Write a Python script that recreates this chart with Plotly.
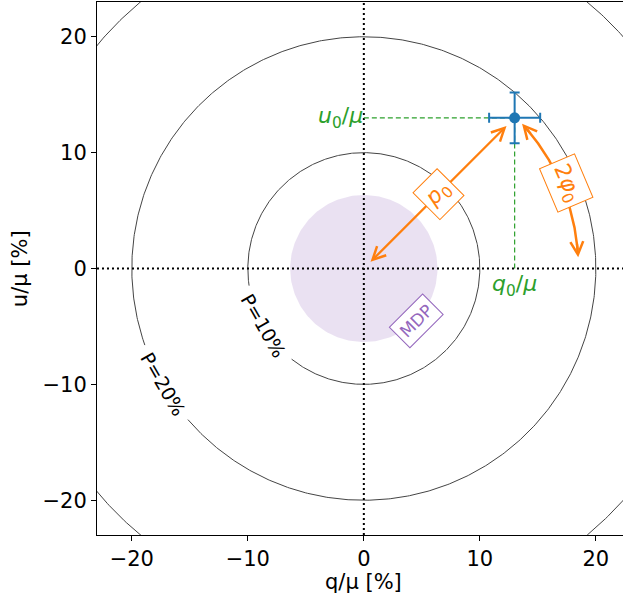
import numpy as np
import plotly.graph_objects as go

# ---------------- data ----------------
p_levels = [10, 20, 30]            # polarization-degree contours [%]
p_labels = ["P=10%", "P=20%", ""]  # contour labels (P=30% label out of view)
label_angle_deg = 210              # angular position of contour labels
gap_half_deg = [21.5, 10.7, 0.0]   # half-width of label gap on each contour
q0 = 13.0                          # q0/mu [%]
u0 = 13.0                          # u0/mu [%]
q0_err = 2.2
u0_err = 2.2
mdp = 6.35                         # MDP radius [%]
arc_radius = 18.5                  # radius of the 2phi0 arc
arc_from_deg = 42.5
arc_to_deg = 3.0
x_ticks = [-20, -10, 0, 10, 20]
y_ticks = [-20, -10, 0, 10, 20]
x_range = [-23, 22.34]
y_range = [-23, 23]
x_title = "q/μ [%]"
y_title = "u/μ [%]"

BLUE = "#1f77b4"
ORANGE = "#ff7f0e"
GREEN = "#2ca02c"
PURPLE = "#9467bd"
FONT = "DejaVu Sans"

fig = go.Figure()

# MDP disc
th = np.linspace(0, 2 * np.pi, 241)
fig.add_trace(go.Scatter(x=mdp * np.cos(th), y=mdp * np.sin(th), mode="lines",
                         fill="toself", fillcolor="rgba(148,103,189,0.2)",
                         line=dict(width=0, color="rgba(0,0,0,0)"),
                         hoverinfo="skip", showlegend=False))

# contour circles with gaps for labels
for r, g in zip(p_levels, gap_half_deg):
    a0 = np.deg2rad(label_angle_deg + g)
    a1 = np.deg2rad(label_angle_deg + 360 - g)
    t = np.linspace(a0, a1, 721)
    fig.add_trace(go.Scatter(x=r * np.cos(t), y=r * np.sin(t), mode="lines",
                             line=dict(color="#444444", width=1),
                             hoverinfo="skip", showlegend=False))

# dotted axes through origin
fig.add_trace(go.Scatter(x=[y_range[0], 23], y=[0, 0], mode="lines",
                         line=dict(color="black", width=2, dash="2px,3px"),
                         hoverinfo="skip", showlegend=False))
fig.add_trace(go.Scatter(x=[0, 0], y=y_range, mode="lines",
                         line=dict(color="black", width=2, dash="2px,3px"),
                         hoverinfo="skip", showlegend=False))

# green projection lines
fig.add_trace(go.Scatter(x=[0, q0], y=[u0, u0], mode="lines",
                         line=dict(color=GREEN, width=1.2, dash="5px,3px"),
                         hoverinfo="skip", showlegend=False))
fig.add_trace(go.Scatter(x=[q0, q0], y=[0, u0], mode="lines",
                         line=dict(color=GREEN, width=1.2, dash="5px,3px"),
                         hoverinfo="skip", showlegend=False))

# 2phi0 arc
ta = np.deg2rad(np.linspace(arc_from_deg - 2, arc_to_deg + 2, 200))
fig.add_trace(go.Scatter(x=arc_radius * np.cos(ta), y=arc_radius * np.sin(ta),
                         mode="lines", line=dict(color=ORANGE, width=2.5),
                         hoverinfo="skip", showlegend=False))

# measured point with error bars
fig.add_trace(go.Scatter(x=[q0], y=[u0], mode="markers",
                         marker=dict(color=BLUE, size=11),
                         error_x=dict(type="data", array=[q0_err], color=BLUE,
                                      thickness=2, width=5),
                         error_y=dict(type="data", array=[u0_err], color=BLUE,
                                      thickness=2, width=5),
                         hoverinfo="skip", showlegend=False))

ann = []
# contour labels
for r, lab in zip(p_levels, p_labels):
    if not lab:
        continue
    a = np.deg2rad(label_angle_deg)
    ann.append(dict(x=r * np.cos(a), y=r * np.sin(a), text=lab, showarrow=False,
                    textangle=60, font=dict(family=FONT, size=19, color="black")))

# MDP label
ann.append(dict(x=4.5, y=-4.5, text="MDP", showarrow=False, textangle=-45,
                font=dict(family=FONT, size=17, color=PURPLE),
                bgcolor="white", bordercolor=PURPLE, borderwidth=1, borderpad=4))

# green labels
ann.append(dict(x=0, y=u0, text="<i>u</i><sub>0</sub>/<i>μ</i>", showarrow=False,
                xanchor="right", yanchor="middle", xshift=1,
                font=dict(family=FONT, size=22, color=GREEN)))
ann.append(dict(x=q0, y=0, text="<i>q</i><sub>0</sub>/<i>μ</i>", showarrow=False,
                xanchor="center", yanchor="top", yshift=0,
                font=dict(family=FONT, size=22, color=GREEN)))

# p0 double arrow
s = 0.45
e = q0 - 0.7
ann.append(dict(x=e, y=e, ax=s, ay=s, axref="x", ayref="y", xref="x", yref="y",
                text="", showarrow=True, arrowhead=5, startarrowhead=5,
                arrowside="end+start", arrowwidth=2.3, arrowsize=1.1,
                startarrowsize=1.1, arrowcolor=ORANGE))
ann.append(dict(x=6.4, y=6.4, text="<i>p</i><sub>0</sub>", showarrow=False,
                textangle=-45, font=dict(family=FONT, size=22, color=ORANGE),
                bgcolor="white", bordercolor=ORANGE, borderwidth=1, borderpad=4))

# arc arrowheads
for tip, back in [(arc_from_deg, arc_from_deg - 4), (arc_to_deg, arc_to_deg + 4)]:
    tt, bb = np.deg2rad(tip), np.deg2rad(back)
    ann.append(dict(x=arc_radius * np.cos(tt), y=arc_radius * np.sin(tt),
                    ax=arc_radius * np.cos(bb), ay=arc_radius * np.sin(bb),
                    axref="x", ayref="y", xref="x", yref="y", text="",
                    showarrow=True, arrowhead=5, arrowwidth=2.3, arrowsize=1.1,
                    arrowcolor=ORANGE))
mid = np.deg2rad(22.8)
ann.append(dict(x=18.95 * np.cos(mid), y=18.95 * np.sin(mid),
                text="2<i>φ</i><sub>0</sub>", showarrow=False, textangle=67,
                font=dict(family=FONT, size=22, color=ORANGE),
                bgcolor="white", bordercolor=ORANGE, borderwidth=1, borderpad=4))

# axis titles
ann.append(dict(x=0, y=-0.089, xref="x", yref="paper", text=x_title,
                showarrow=False, xanchor="center", yanchor="middle",
                font=dict(family=FONT, size=21, color="black")))
ann.append(dict(x=-0.147, y=0, xref="paper", yref="y", text=y_title,
                showarrow=False, textangle=-90, xanchor="center", yanchor="middle",
                font=dict(family=FONT, size=21, color="black")))

fig.update_layout(
    width=623, height=598,
    margin=dict(l=97, r=0, t=2, b=63, autoexpand=False),
    plot_bgcolor="white", paper_bgcolor="white",
    font=dict(family=FONT, size=21, color="black"),
    showlegend=False,
    annotations=ann,
    xaxis=dict(range=x_range, tickvals=x_ticks, ticks="outside", ticklen=5,
               tickcolor="black", showline=True, linecolor="black", linewidth=1,
               mirror=True, showgrid=False, zeroline=False, automargin=False),
    yaxis=dict(range=y_range, tickvals=y_ticks, ticks="outside", ticklen=5,
               tickcolor="black", showline=True, linecolor="black", linewidth=1,
               mirror=False, showgrid=False, zeroline=False, automargin=False),
)

fig.write_html(
    "out.html",
    config={"displayModeBar": False},
    post_script="document.body.style.margin='0';document.body.style.overflow='hidden';",
)
